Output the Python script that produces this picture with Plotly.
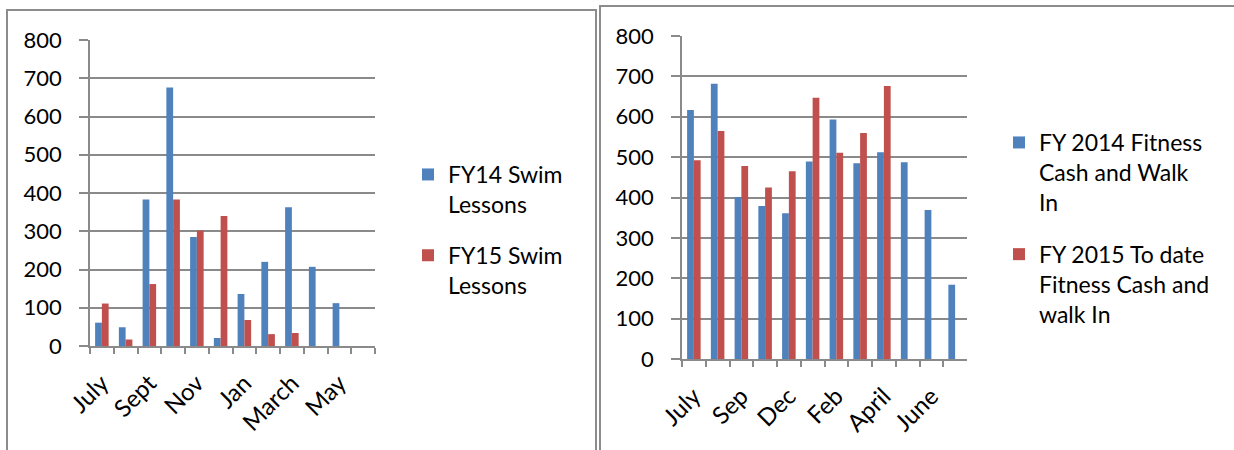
import plotly.graph_objects as go

# ---- Swim lessons (left panel) ----
swim_months = ["July", "Aug", "Sept", "Oct", "Nov", "Dec",
               "Jan", "Feb", "March", "April", "May", "June"]
swim_fy14 = [61, 49, 383, 676, 285, 21, 136, 220, 363, 207, 112, None]
swim_fy15 = [111, 17, 162, 383, 302, 340, 68, 31, 34, None, None, None]
swim_shown = ["July", "Sept", "Nov", "Jan", "March", "May"]

# ---- Fitness cash and walk-in (right panel) ----
fit_months = ["July", "Aug", "Sep", "Oct", "Dec", "Jan",
              "Feb", "Mar", "April", "May", "June", "Jul"]
fit_fy14 = [617, 682, 401, 379, 361, 489, 593, 485, 512, 487, 369, 184]
fit_fy15 = [492, 565, 478, 425, 465, 647, 511, 560, 676, None, None, None]
fit_shown = ["July", "Sep", "Dec", "Feb", "April", "June"]

y_ticks = [0, 100, 200, 300, 400, 500, 600, 700, 800]

BLUE = "#4f81bd"
RED = "#c0504d"
GRID = "#8a8a8a"
FONT = "Lato, Carlito, 'Liberation Sans', sans-serif"

W, H = 1234, 450


def px_x(v):
    return v / W


def px_y(v):
    return 1 - v / H


fig = go.Figure()

fig.add_trace(go.Bar(x=swim_months, y=swim_fy14, name="FY14 Swim<br>Lessons",
                     marker_color=BLUE, xaxis="x", yaxis="y",
                     legend="legend", legendgroup="s14"))
fig.add_trace(go.Bar(x=swim_months, y=swim_fy15, name="FY15 Swim<br>Lessons",
                     marker_color=RED, xaxis="x", yaxis="y",
                     legend="legend", legendgroup="s15"))
fig.add_trace(go.Bar(x=fit_months, y=fit_fy14,
                     name="FY 2014 Fitness<br>Cash and Walk<br>In",
                     marker_color=BLUE, xaxis="x2", yaxis="y2",
                     legend="legend2", legendgroup="f14"))
fig.add_trace(go.Bar(x=fit_months, y=fit_fy15,
                     name="FY 2015 To date<br>Fitness Cash and<br>walk In",
                     marker_color=RED, xaxis="x2", yaxis="y2",
                     legend="legend2", legendgroup="f15"))


def xaxis_cfg(cats, shown, domain, anchor):
    return dict(
        domain=domain, anchor=anchor, type="category",
        categoryorder="array", categoryarray=cats,
        tickmode="array", tickvals=cats,
        ticktext=[c if c in shown else "" for c in cats],
        tickson="boundaries", ticks="outside", ticklen=6, tickwidth=1.5,
        tickcolor=GRID, showline=True, linecolor=GRID, linewidth=1.5,
        showgrid=False, tickangle=-45, ticklabelstandoff=12, automargin=False,
        tickfont=dict(family=FONT, size=24, color="#000"),
        fixedrange=True,
    )


def yaxis_cfg(domain, anchor):
    return dict(
        domain=domain, anchor=anchor, range=[0, 800], tickmode="array",
        tickvals=y_ticks, ticks="outside", ticklen=9, tickwidth=1.5,
        tickcolor=GRID, showline=True, linecolor=GRID, linewidth=1.5,
        showgrid=True, gridcolor=GRID, gridwidth=1.5, zeroline=False,
        ticklabelstandoff=13, automargin=False,
        tickfont=dict(family=FONT, size=22, color="#000"),
        fixedrange=True,
    )


legend_common = dict(
    font=dict(family=FONT, size=23, color="#000"),
    bgcolor="rgba(0,0,0,0)", itemclick=False, valign="top",
    xanchor="left", yanchor="top", traceorder="grouped",
)

fig.update_layout(
    template="none",
    width=W, height=H,
    margin=dict(l=0, r=0, t=0, b=0, autoexpand=False),
    paper_bgcolor="white", plot_bgcolor="white",
    barmode="group", bargap=0.43, bargroupgap=0,
    xaxis=xaxis_cfg(swim_months, swim_shown, [px_x(90), px_x(375)], "y"),
    yaxis=yaxis_cfg([px_y(346), px_y(40)], "x"),
    xaxis2=xaxis_cfg(fit_months, fit_shown, [px_x(682), px_x(967)], "y2"),
    yaxis2=yaxis_cfg([px_y(359), px_y(36)], "x2"),
    legend=dict(x=px_x(408), y=px_y(153), tracegroupgap=18, **legend_common),
    legend2=dict(x=px_x(999), y=px_y(121), tracegroupgap=19, **legend_common),
    showlegend=True,
    shapes=[
        # panel frames
        dict(type="rect", xref="paper", yref="paper",
             x0=px_x(7), x1=px_x(596), y0=px_y(470), y1=px_y(10),
             line=dict(color="#8c8c8c", width=2), fillcolor="rgba(0,0,0,0)",
             layer="below"),
        dict(type="rect", xref="paper", yref="paper",
             x0=px_x(600), x1=px_x(1250), y0=px_y(470), y1=px_y(6),
             line=dict(color="#8c8c8c", width=2), fillcolor="rgba(0,0,0,0)",
             layer="below"),
    ],
)

fig.write_html("out.html")
